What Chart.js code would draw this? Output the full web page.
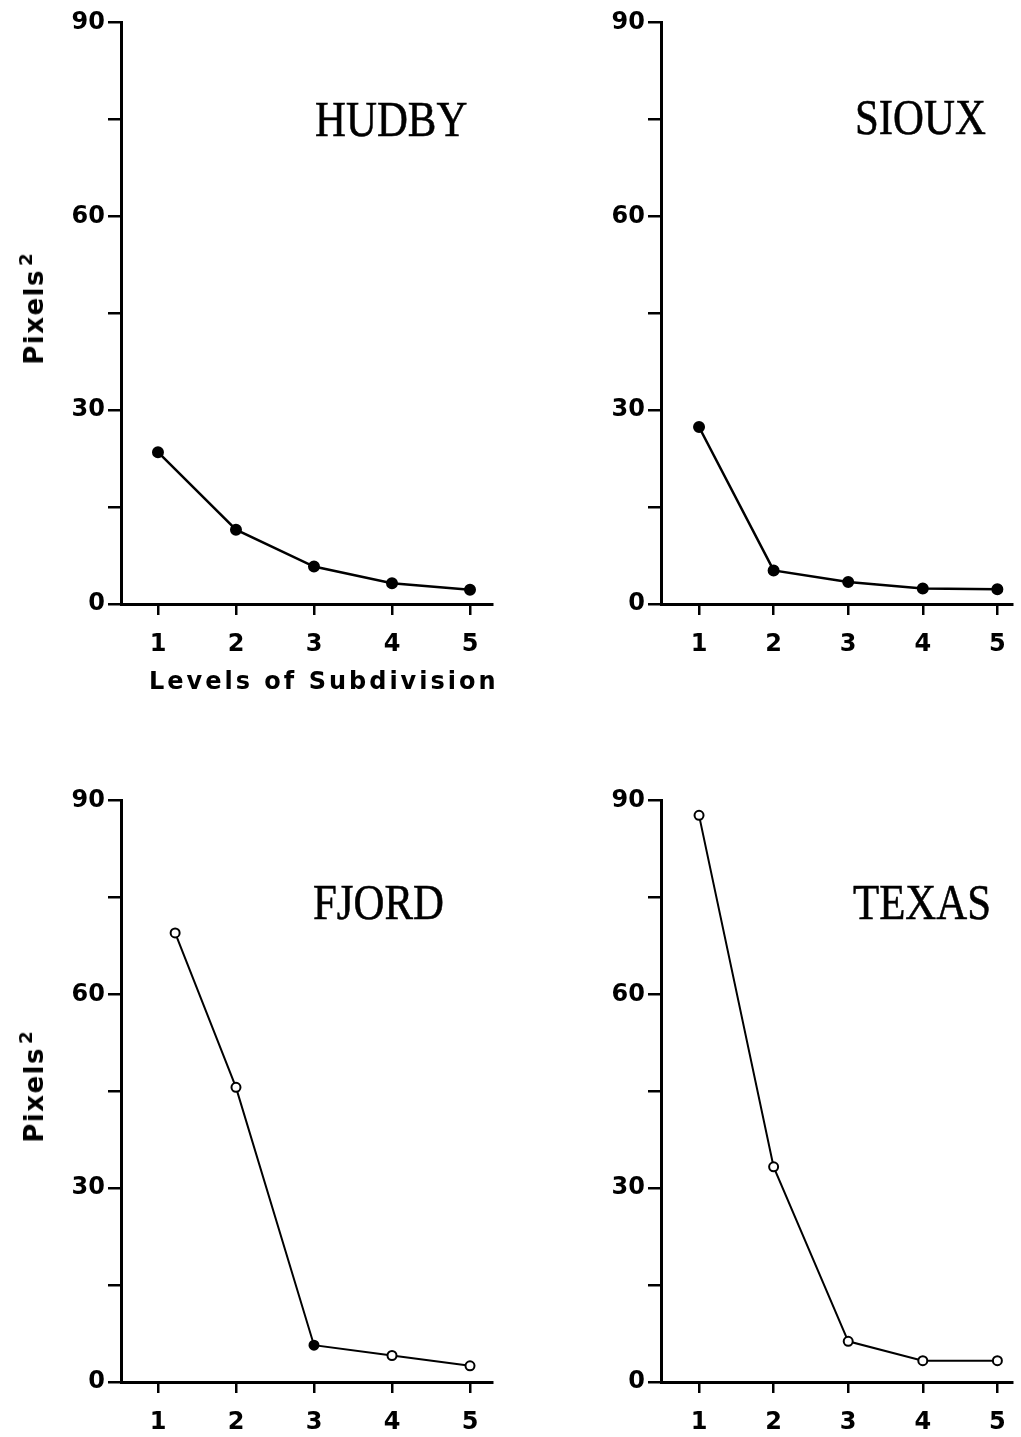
<!DOCTYPE html>
<html>
<head>
<meta charset="utf-8">
<script src="https://cdn.jsdelivr.net/npm/chart.js@4.4.1/dist/chart.umd.min.js"></script>
<style>
  html, body { margin: 0; padding: 0; background: #fff; }
  body { position: relative; width: 1021px; height: 1437px; overflow: hidden; }
  canvas { position: absolute; }
  .name {
    position: absolute;
    font-family: 'Liberation Serif', 'Times New Roman', serif;
    font-size: 51px;
    line-height: 1;
    color: #000;
    white-space: nowrap;
    -webkit-text-stroke: 0.6px #000;
    transform: scaleX(0.84);
    transform-origin: left top;
  }
  .ylab {
    position: absolute;
    font-family: 'DejaVu Sans', sans-serif;
    font-weight: bold;
    font-size: 26px;
    letter-spacing: 1.5px;
    line-height: 1;
    white-space: nowrap;
    transform: translate(-50%, -50%) rotate(-90deg);
  }
  .ylab span { position: relative; top: -0.6em; font-size: 0.7em; letter-spacing: 0; margin-left: 3px; }
  .xlab {
    position: absolute;
    font-family: 'DejaVu Sans', sans-serif;
    font-weight: bold;
    font-size: 24px;
    letter-spacing: 3px;
    line-height: 1;
    white-space: nowrap;
  }
</style>
</head>
<body>
<canvas id="hudby" width="510" height="680" style="left:0;top:0"></canvas>
<canvas id="sioux" width="481" height="680" style="left:540px;top:0"></canvas>
<canvas id="fjord" width="510" height="677" style="left:0;top:760px"></canvas>
<canvas id="texas" width="481" height="677" style="left:540px;top:760px"></canvas>

<div class="name" style="left:315px;top:94px">HUDBY</div>
<div class="name" style="left:855px;top:92px">SIOUX</div>
<div class="name" style="left:313px;top:877px">FJORD</div>
<div class="name" style="left:853px;top:877px">TEXAS</div>

<div class="ylab" style="left:34px;top:309px">Pixels<span>2</span></div>
<div class="ylab" style="left:34px;top:1087px">Pixels<span>2</span></div>
<div class="xlab" style="left:149px;top:669px">Levels of Subdivision</div>

<script>
// levels of subdivision (x) and mean squared error in pixels^2 (y)
const levels = [1, 2, 3, 4, 5];
const fjordLevels = [1.22, 2, 3, 4, 5];
const hudby = [23.5, 11.5, 5.8, 3.2, 2.2];
const sioux = [27.4, 5.2, 3.4, 2.4, 2.3];
const fjord = [69.5, 45.6, 5.7, 4.1, 2.5];
const texas = [87.7, 33.3, 6.3, 3.3, 3.3];

const yTicks = [0, 15, 30, 45, 60, 75, 90];
const yLabelled = [0, 30, 60, 90];

const tickFont = { family: 'DejaVu Sans', size: 24, weight: 'bold' };

function makePanel(id, xs, ys, o) {
  const ctx = document.getElementById(id).getContext('2d');
  return new Chart(ctx, {
    type: 'line',
    data: {
      datasets: [{
        data: xs.map((x, i) => ({ x, y: ys[i] })),
        borderColor: '#000',
        borderWidth: o.lineWidth,
        pointRadius: o.radius,
        pointBorderWidth: 2,
        pointBorderColor: '#000',
        pointBackgroundColor: o.pointFill,
        tension: 0,
        clip: false
      }]
    },
    options: {
      responsive: false,
      animation: false,
      devicePixelRatio: 1,
      layout: { padding: { top: o.padTop, right: o.padRight, left: 0, bottom: 0 } },
      plugins: { legend: { display: false }, tooltip: { enabled: false } },
      scales: {
        x: {
          type: 'linear',
          min: o.xMin,
          max: o.xMax,
          afterBuildTicks: s => { s.ticks = levels.map(v => ({ value: v })); },
          afterFit: s => { s.height = o.xHeight; },
          ticks: { color: '#000', font: tickFont, padding: 15, maxRotation: 0, autoSkip: false },
          grid: { drawOnChartArea: false, color: '#000', lineWidth: 2.5, tickLength: 11 },
          border: { color: '#000', width: 3 }
        },
        y: {
          min: 0,
          max: 90,
          afterBuildTicks: s => { s.ticks = yTicks.map(v => ({ value: v })); },
          afterFit: s => { s.width = o.yWidth; },
          ticks: {
            color: '#000',
            font: tickFont,
            padding: 3,
            callback: v => (yLabelled.includes(v) ? String(v) : '')
          },
          grid: { drawOnChartArea: false, color: '#000', lineWidth: 2.5, tickLength: 13 },
          border: { color: '#000', width: 3 }
        }
      }
    }
  });
}

const topLeft = { xMin: 0.526, xMax: 5.282, padTop: 22.5, padRight: 18, yWidth: 121, xHeight: 76 };
const topRight = { xMin: 0.49, xMax: 5.196, padTop: 22.5, padRight: 0, yWidth: 121, xHeight: 76 };

makePanel('hudby', levels, hudby, Object.assign({}, topLeft, { lineWidth: 2.5, radius: 5, pointFill: '#000' }));
makePanel('sioux', levels, sioux, Object.assign({}, topRight, { lineWidth: 2.5, radius: 5, pointFill: '#000' }));
makePanel('fjord', fjordLevels, fjord, Object.assign({}, topLeft, {
  padTop: 40.5, xHeight: 55, lineWidth: 2, radius: 4.5,
  pointFill: c => (c.dataIndex === 2 ? '#000' : '#fff')
}));
makePanel('texas', levels, texas, Object.assign({}, topRight, {
  padTop: 40.5, xHeight: 55, lineWidth: 2, radius: 4.5, pointFill: '#fff'
}));
</script>
</body>
</html>
